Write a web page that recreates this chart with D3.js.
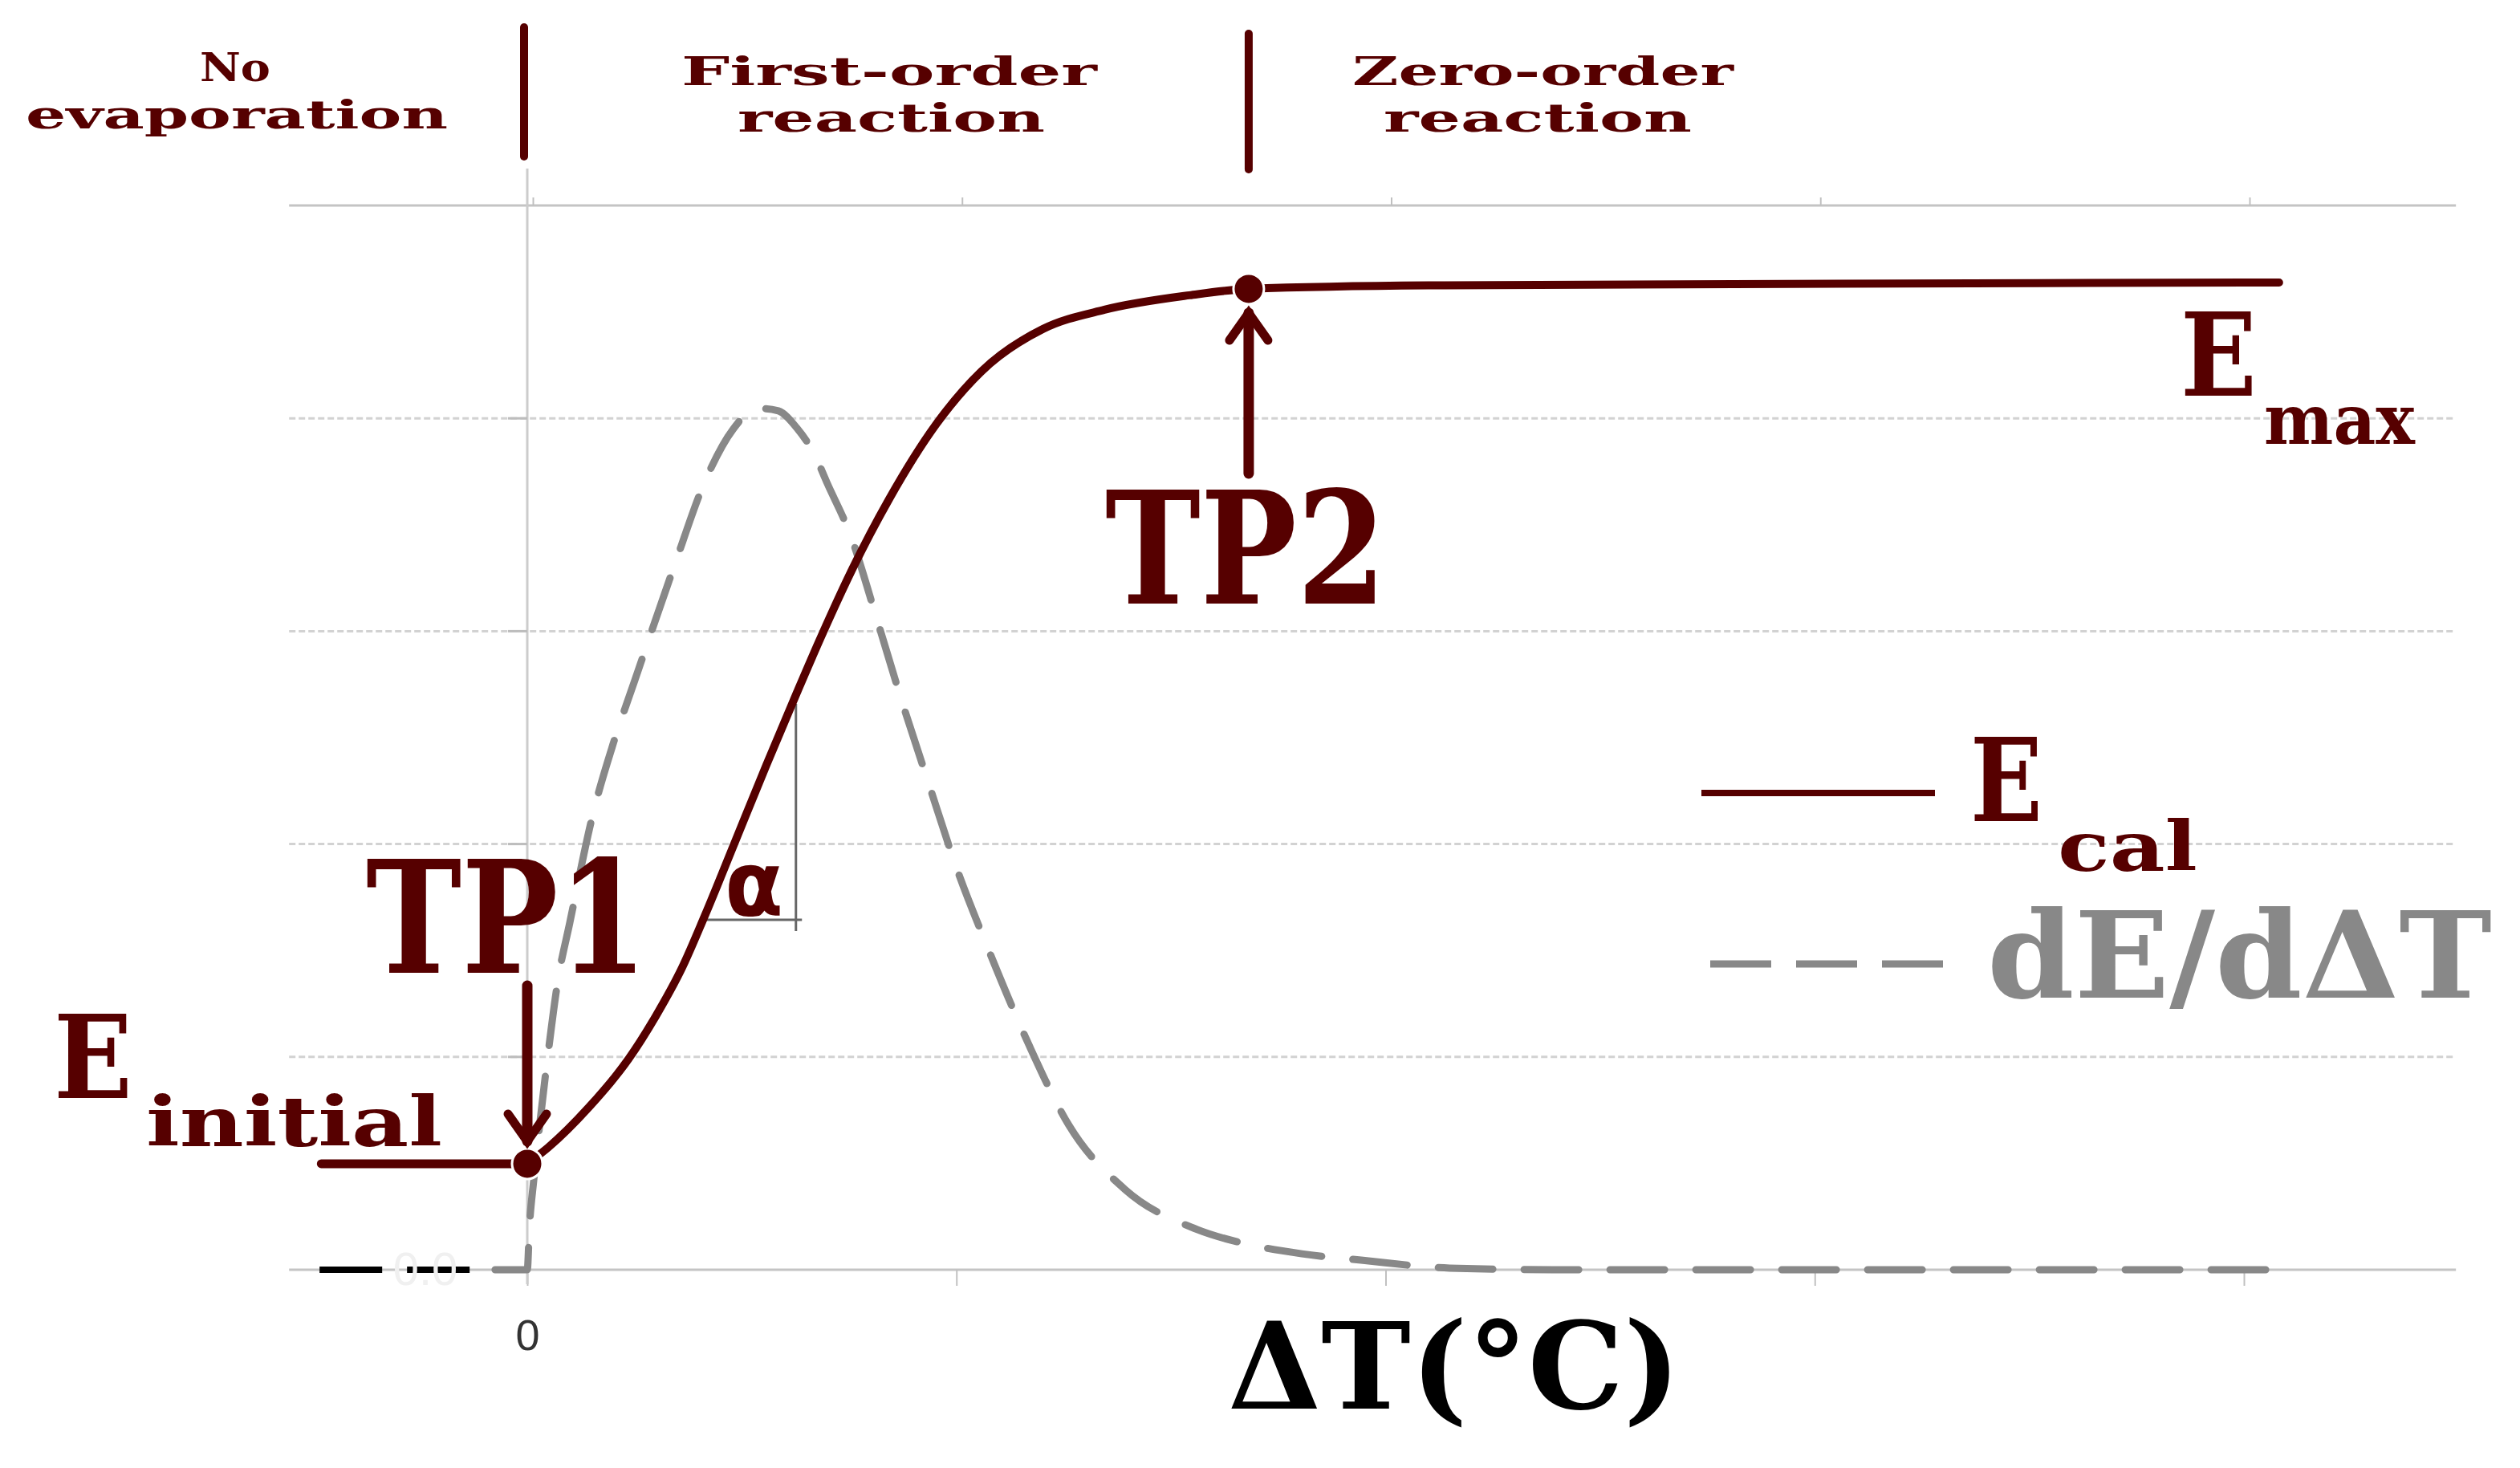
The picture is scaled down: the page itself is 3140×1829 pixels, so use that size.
<!DOCTYPE html>
<html>
<head>
<meta charset="utf-8">
<script src="https://cdn.jsdelivr.net/npm/d3@7"></script>
<style>
  body { margin: 0; background: #fff; }
  svg { display: block; }
</style>
</head>
<body>
<div id="vizHolder"></div>
<script>
// E_cal curve (x in ΔT tick units, y in gridline units)
var ecalX = [0, 0.049, 0.142, 0.236, 0.299, 0.361, 0.413, 0.486, 0.557, 0.628, 0.686, 0.757, 0.843, 0.952, 1.058, 1.202, 1.345, 1.543, 1.681, 2.137, 4.082];
var ecalY = [0.498, 0.575, 0.76, 0.99, 1.19, 1.42, 1.66, 2.02, 2.37, 2.71, 2.98, 3.29, 3.62, 3.97, 4.22, 4.42, 4.51, 4.578, 4.608, 4.625, 4.638];

// dE/dΔT curve
var derivX = [-0.075, 0, 0.005, 0.015, 0.03, 0.05, 0.071, 0.099, 0.155, 0.2, 0.249, 0.342, 0.413, 0.48, 0.522, 0.55, 0.585, 0.628, 0.671, 0.698, 0.754, 0.815, 0.873, 0.937, 1.0, 1.073, 1.169, 1.262, 1.393, 1.561, 1.676, 1.805, 1.943, 2.149, 2.4, 4.082];
var derivY = [0, 0, 0.2, 0.42, 0.7, 1.04, 1.354, 1.63, 2.157, 2.47, 2.76, 3.303, 3.699, 3.95, 4.035, 4.045, 4.035, 3.955, 3.823, 3.699, 3.446, 3.054, 2.67, 2.274, 1.889, 1.512, 1.056, 0.679, 0.377, 0.189, 0.121, 0.075, 0.045, 0.008, 0, 0];

// black baseline stub left of zero
var stubX = [-0.484, -0.133];
var stubY = [0, 0];

var xTicks = [0, 1, 2, 3, 4];
var xTickLabels = ['0', '', '', '', ''];
var yGrid = [1, 2, 3, 4];
var xDomainEdges = [-0.555, 4.494];

var tp1 = { x: 0, y: 0.498 };
var tp2 = { x: 1.681, y: 4.608 };
var eInitialStart = -0.48;
var phaseBounds = [tp1.x, tp2.x];
var alphaLeg = { x0: 0.405, x1: 0.64, xv: 0.626, y0: 1.644, y1: 1.591, y2: 2.658 };

var W = 3140, H = 1829;
var maroon = '#560000', grey = '#888888';
var serif = "'DejaVu Serif', serif";

var svg = d3.select('#vizHolder').append('svg')
  .attr('width', W).attr('height', H);

var x = d3.scaleLinear().domain([0, 4]).range([657, 2796]);
var y = d3.scaleLinear().domain([0, 5]).range([1582, 256]);

// grid
svg.append('g').selectAll('line')
  .data(yGrid).enter().append('line')
  .attr('x1', x(xDomainEdges[0])).attr('x2', x(xDomainEdges[1]))
  .attr('y1', function(d) { return y(d); }).attr('y2', function(d) { return y(d); })
  .attr('stroke', '#d2d2d2').attr('stroke-width', 3).attr('stroke-dasharray', '8,4');

// top border + bottom axis line
[0, 5].forEach(function(v) {
  svg.append('line')
    .attr('x1', x(xDomainEdges[0])).attr('x2', x(xDomainEdges[1]))
    .attr('y1', y(v)).attr('y2', y(v))
    .attr('stroke', '#c4c4c4').attr('stroke-width', 3);
});

// x axis ticks (bottom)
var xAxis = svg.append('g')
  .attr('transform', 'translate(0,' + y(0) + ')')
  .call(d3.axisBottom(x).tickValues(xTicks).tickSize(20).tickPadding(80)
    .tickFormat(function(d, i) { return xTickLabels[i]; }));
xAxis.select('.domain').remove();
xAxis.selectAll('line').attr('stroke', '#c0c0c0').attr('stroke-width', 2);
xAxis.selectAll('text')
  .attr('font-family', "'Liberation Sans', sans-serif").attr('font-size', 54)
  .attr('fill', '#333').attr('dy', 0);

// top ticks
var xTop = svg.append('g')
  .attr('transform', 'translate(7,' + y(5) + ')')
  .call(d3.axisTop(x).tickValues(xTicks).tickSize(10).tickFormat(''));
xTop.select('.domain').remove();
xTop.selectAll('line').attr('stroke', '#c0c0c0').attr('stroke-width', 2);

// y axis line + ticks
svg.append('line')
  .attr('x1', x(0)).attr('x2', x(0)).attr('y1', 210).attr('y2', y(0) + 18)
  .attr('stroke', '#cccccc').attr('stroke-width', 3);
svg.append('g').selectAll('line')
  .data(yGrid).enter().append('line')
  .attr('x1', x(0) - 24).attr('x2', x(0))
  .attr('y1', function(d) { return y(d); }).attr('y2', function(d) { return y(d); })
  .attr('stroke', '#bdbdbd').attr('stroke-width', 3);

// black stub + faint ghost label
svg.append('line')
  .attr('x1', x(stubX[0])).attr('x2', x(stubX[1]))
  .attr('y1', y(stubY[0])).attr('y2', y(stubY[1]))
  .attr('stroke', '#000').attr('stroke-width', 8).attr('stroke-dasharray', '78,31');
svg.append('text').attr('x', 530).attr('y', 1601).attr('text-anchor', 'middle')
  .attr('font-family', "'Liberation Sans', sans-serif").attr('font-size', 58)
  .attr('fill', '#f0f0f0').text('0.0');

// dE/dΔT dashed curve
var derivLine = d3.line()
  .x(function(d, i) { return x(derivX[i]); })
  .y(function(d, i) { return y(derivY[i]); })
  .curve(d3.curveMonotoneX);
svg.append('path').datum(derivX)
  .attr('d', derivLine)
  .attr('fill', 'none').attr('stroke', grey).attr('stroke-width', 9)
  .attr('stroke-linecap', 'round').attr('stroke-dasharray', '68,39');

// alpha slope triangle
svg.append('line')
  .attr('x1', x(alphaLeg.x0)).attr('x2', x(alphaLeg.x1))
  .attr('y1', y(alphaLeg.y0)).attr('y2', y(alphaLeg.y0))
  .attr('stroke', '#666').attr('stroke-width', 3);
svg.append('line')
  .attr('x1', x(alphaLeg.xv)).attr('x2', x(alphaLeg.xv))
  .attr('y1', y(alphaLeg.y1)).attr('y2', y(alphaLeg.y2))
  .attr('stroke', '#666').attr('stroke-width', 3);

// E_initial horizontal segment
svg.append('line')
  .attr('x1', x(eInitialStart)).attr('x2', x(tp1.x))
  .attr('y1', y(tp1.y)).attr('y2', y(tp1.y))
  .attr('stroke', maroon).attr('stroke-width', 11).attr('stroke-linecap', 'round');

// E_cal solid curve
var ecalLine = d3.line()
  .x(function(d, i) { return x(ecalX[i]); })
  .y(function(d, i) { return y(ecalY[i]); })
  .curve(d3.curveMonotoneX);
svg.append('path').datum(ecalX)
  .attr('d', ecalLine)
  .attr('fill', 'none').attr('stroke', maroon).attr('stroke-width', 10)
  .attr('stroke-linecap', 'round');

// turning points
svg.selectAll('circle.tp')
  .data([tp1, tp2]).enter().append('circle')
  .attr('class', 'tp')
  .attr('cx', function(d) { return x(d.x); })
  .attr('cy', function(d) { return y(d.y); })
  .attr('r', 19).attr('fill', maroon)
  .attr('stroke', '#fff').attr('stroke-width', 3);

// arrows
function arrow(xp, yFrom, yTo) {
  var dir = yTo > yFrom ? 1 : -1;
  svg.append('line').attr('x1', xp).attr('x2', xp).attr('y1', yFrom).attr('y2', yTo)
    .attr('stroke', maroon).attr('stroke-width', 13).attr('stroke-linecap', 'round');
  svg.append('path')
    .attr('d', 'M' + (xp - 24) + ',' + (yTo - dir * 34) + 'L' + xp + ',' + yTo + 'L' + (xp + 24) + ',' + (yTo - dir * 34))
    .attr('fill', 'none').attr('stroke', maroon).attr('stroke-width', 11)
    .attr('stroke-linecap', 'round').attr('stroke-linejoin', 'miter');
}
arrow(x(tp1.x), 1228, y(tp1.y) - 28);
arrow(x(tp2.x), 590, y(tp2.y) + 30);

// phase dividers
svg.append('line').attr('x1', x(phaseBounds[0]) - 4).attr('x2', x(phaseBounds[0]) - 4)
  .attr('y1', 34).attr('y2', 195)
  .attr('stroke', maroon).attr('stroke-width', 10).attr('stroke-linecap', 'round');
svg.append('line').attr('x1', x(phaseBounds[1])).attr('x2', x(phaseBounds[1]))
  .attr('y1', 42).attr('y2', 211)
  .attr('stroke', maroon).attr('stroke-width', 10).attr('stroke-linecap', 'round');

// text helper: fit text between x0 and x1
function label(txt, x0, x1, base, size, fill, opts) {
  opts = opts || {};
  svg.append('text')
    .attr('x', x0).attr('y', base)
    .attr('textLength', x1 - x0)
    .attr('lengthAdjust', opts.adjust || 'spacingAndGlyphs')
    .attr('font-family', opts.family || serif)
    .attr('font-weight', opts.weight || 'bold')
    .attr('font-size', size)
    .attr('fill', fill)
    .text(txt);
}

// phase labels
label('No', 249, 337, 101, 49, maroon);
label('evaporation', 32, 558, 160, 49, maroon);
label('First-order', 849, 1367, 106, 49, maroon);
label('reaction', 919, 1302, 164, 49, maroon);
label('Zero-order', 1685, 2160, 106, 49, maroon);
label('reaction', 1724, 2108, 164, 49, maroon);

// big annotations
label('TP1', 456, 807, 1212, 195, maroon);
label('TP2', 1377, 1727, 752, 195, maroon);
label('E', 67, 165, 1368, 144, maroon);
label('initial', 182, 551, 1428, 86, maroon);
label('E', 2717, 2812, 493, 144, maroon);
label('max', 2821, 3009, 553, 86, maroon);
label('α', 903, 976, 1140, 112, maroon, { family: "'DejaVu Sans', sans-serif" });

// legend
svg.append('line').attr('x1', 2120).attr('x2', 2411).attr('y1', 988).attr('y2', 988)
  .attr('stroke', maroon).attr('stroke-width', 8);
svg.append('line').attr('x1', 2131).attr('x2', 2422).attr('y1', 1201).attr('y2', 1201)
  .attr('stroke', grey).attr('stroke-width', 9).attr('stroke-dasharray', '76,31');
label('E', 2455, 2545, 1023, 144, maroon);
label('cal', 2564, 2738, 1085, 86, maroon);
label('dE/dΔT', 2476, 3105, 1243, 150, grey);

// x axis title
label('ΔT(°C)', 1530, 2094, 1755, 150, '#000');
</script>
</body>
</html>
